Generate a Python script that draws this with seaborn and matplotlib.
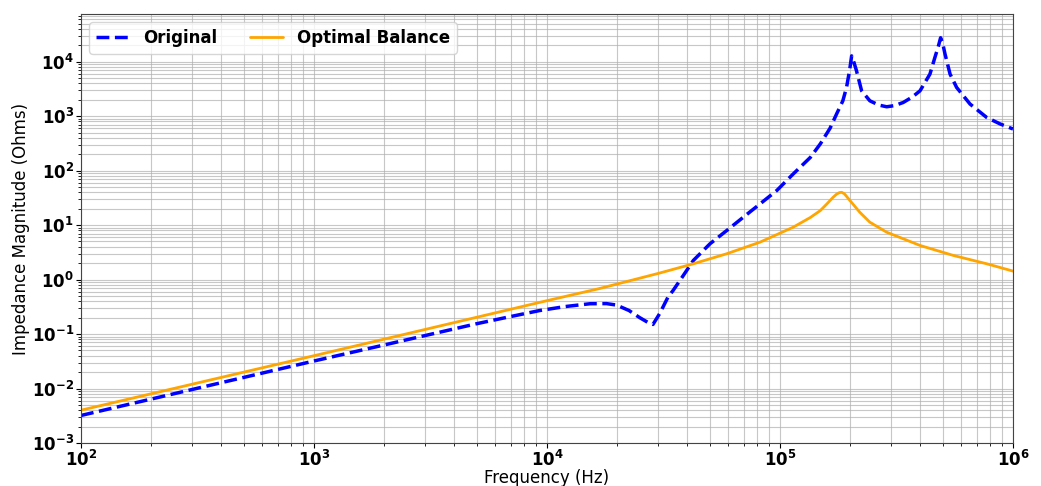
import matplotlib
matplotlib.use("Agg")
import matplotlib.pyplot as plt
import seaborn as sns
import pandas as pd

# Impedance magnitude of the original design (Ohms) versus frequency (Hz)
freq_original = [1e2, 3e2, 1e3, 2e3, 5e3, 7e3, 9.3e3, 1.2e4, 1.53e4, 1.8e4,
                 1.99e4, 2.25e4, 2.5e4, 2.7e4, 2.85e4, 3.05e4, 3.3e4, 3.48e4,
                 3.8e4, 4.25e4, 5.01e4, 5.91e4, 6.96e4, 8.21e4, 9.68e4,
                 1.14e5, 1.35e5, 1.49e5, 1.64e5, 1.75e5, 1.86e5, 1.93e5,
                 1.99e5, 2.03e5, 2.08e5, 2.13e5, 2.24e5, 2.43e5, 2.65e5,
                 2.87e5, 3.1e5, 3.38e5, 3.7e5, 3.99e5, 4.4e5, 4.62e5, 4.78e5,
                 4.89e5, 5.0e5, 5.11e5, 5.37e5, 5.73e5, 6.54e5, 7.71e5, 8.8e5,
                 1e6]
z_original = [0.0032, 0.0096, 0.032, 0.063, 0.155, 0.21, 0.27, 0.32, 0.36, 0.362,
              0.34, 0.27, 0.2, 0.165, 0.15, 0.24, 0.47, 0.634,
              1.1, 2.25, 4.55, 7.96, 13.96, 24.5, 43,
              87, 175, 310, 600, 1100, 1900, 3360,
              7000, 12770, 9500, 6790, 2917, 1914, 1600,
              1486, 1560, 1782, 2250, 2917, 5902, 11900, 19000,
              27500, 21000, 13700, 5902, 3360, 1668, 946, 720,
              581]

# Impedance magnitude with the optimal balance network
freq_balance = [1e2, 1e3, 1e4, 1.67e4, 3.05e4, 4.25e4, 5.91e4, 8.21e4, 1.14e5,
                1.35e5, 1.49e5, 1.59e5, 1.69e5, 1.75e5, 1.8e5, 1.84e5, 1.89e5,
                2.0e5, 2.2e5, 2.43e5, 2.87e5, 3.99e5, 5.55e5, 7.71e5, 1e6]
z_balance = [0.004, 0.04, 0.41, 0.68, 1.32, 1.95, 2.98, 4.86, 9.16,
             13.8, 18.5, 24.5, 32.4, 37.0, 39.5, 40, 37.5,
             28, 17.2, 11.3, 7.4, 4.23, 2.77, 1.95, 1.43]

df_orig = pd.DataFrame({"Frequency": freq_original, "Impedance": z_original})
df_bal = pd.DataFrame({"Frequency": freq_balance, "Impedance": z_balance})

sns.set_style("white")
plt.rcParams.update({
    "text.color": "black",
    "axes.labelcolor": "black",
    "xtick.color": "black",
    "ytick.color": "black",
})

fig = plt.figure(figsize=(10.41, 4.86), dpi=100)
ax = fig.add_axes([0.0778, 0.0885, 0.8953, 0.8827])
ax.set_xscale("log")
ax.set_yscale("log")

sns.lineplot(data=df_orig, x="Frequency", y="Impedance", ax=ax, color="blue",
             linestyle="--", linewidth=2.5, label="Original")
sns.lineplot(data=df_bal, x="Frequency", y="Impedance", ax=ax, color="orange",
             linestyle="-", linewidth=2.0, label="Optimal Balance")

ax.set_xlim(1e2, 1e6)
ax.set_ylim(1e-3, 7.5e4)
ax.grid(True, which="both", linestyle="-", color="#b0b0b0", linewidth=0.8, alpha=0.7)

ax.set_xlabel("Frequency (Hz)", fontsize=12, labelpad=-1)
ax.set_ylabel("Impedance Magnitude (Ohms)", fontsize=12, labelpad=1)
ax.tick_params(axis="both", which="major", labelsize=12, direction="out",
               bottom=True, left=True, length=3.5, pad=1.5)
ax.tick_params(axis="both", which="minor", bottom=True, left=True, length=2)
for lbl in ax.get_xticklabels() + ax.get_yticklabels():
    lbl.set_fontweight("bold")
for s in ax.spines.values():
    s.set_color("#444444")

leg = ax.legend(loc="upper left", ncol=2, prop={"weight": "bold", "size": 12},
                frameon=True)

fig.savefig("out.png", dpi=100)
